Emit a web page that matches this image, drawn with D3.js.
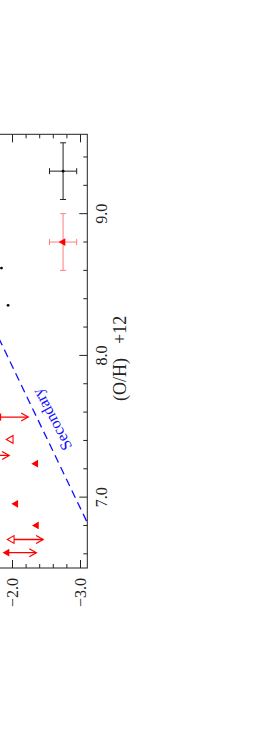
<!DOCTYPE html>
<meta charset="utf-8">
<script src="https://d3js.org/d3.v7.min.js"></script>
<style>
  body { margin: 0; background: #fff; }
  text { font-family: "Liberation Serif", serif; }
</style>
<body>
<div id="chart"></div>
<script>
  // data (x = 12+log(O/H), y = log ratio)
  const blackX = [8.616, 8.353];
  const blackY = [-1.838, -1.935];
  const triX = [7.236, 6.953, 6.800];
  const triY = [-2.343, -2.049, -2.353];
  const openTriX = [7.407];
  const openTriY = [-1.975];
  // upper limits: marker value and tip of the arrow
  const limX = [7.565, 7.294, 6.701, 6.608];
  const limY = [-1.80, -1.51, -1.99, -1.92];
  const limTip = [-2.23, -1.95, -2.45, -2.35];
  const limOpen = [false, false, true, false];
  // typical error bars
  const errX = [9.30, 8.80];
  const errY = [-2.744, -2.744];
  const errSize = [0.2, 0.2];
  const errColor = ["#222", "#ff7f7f"];
  // secondary line
  const lineX = [6.5, 9.56];
  const lineY = [-3.42, -0.36];
  const xTicks = [7.0, 8.0, 9.0];
  const yTicks = [-3.0, -2.0];

  const width = 278, height = 747;
  const svg = d3.select("#chart").append("svg")
    .attr("width", width).attr("height", height);

  // chart is drawn upright and then turned a quarter to the left
  const g = svg.append("g").attr("transform", "translate(0,568) rotate(-90)");

  const x = d3.scaleLinear().domain([6.5, 9.56]).range([0, 433.7]);
  const y = d3.scaleLinear().domain([-3.1, 0]).range([87.3, 87.3 - 3.1 * 68]);
  const x0 = x.range()[0], x1 = x.range()[1], y0 = y.range()[0], y1 = y.range()[1];

  g.append("clipPath").attr("id", "clip").append("rect")
    .attr("x", x0).attr("y", y1).attr("width", x1 - x0).attr("height", y0 - y1);

  // frame
  g.append("rect").attr("x", x0).attr("y", y1).attr("width", x1 - x0).attr("height", y0 - y1)
    .attr("fill", "none").attr("stroke", "#222").attr("stroke-width", 1);

  const ink = "#222";
  const xMinor = d3.range(6.6, 9.56, 0.2);
  const yMinor = d3.range(-3.0, 0.01, 0.2);
  const isMajor = v => Math.abs(v - Math.round(v)) < 1e-6;

  // x ticks, bottom and top
  xMinor.forEach(v => {
    const len = isMajor(v) ? 8 : 4;
    g.append("line").attr("x1", x(v)).attr("x2", x(v)).attr("y1", y0).attr("y2", y0 - len).attr("stroke", ink);
    g.append("line").attr("x1", x(v)).attr("x2", x(v)).attr("y1", y1).attr("y2", y1 + len).attr("stroke", ink);
  });
  // y ticks, left and right
  yMinor.forEach(v => {
    const len = isMajor(v) ? 8 : 4;
    g.append("line").attr("y1", y(v)).attr("y2", y(v)).attr("x1", x0).attr("x2", x0 + len).attr("stroke", ink);
    g.append("line").attr("y1", y(v)).attr("y2", y(v)).attr("x1", x1).attr("x2", x1 - len).attr("stroke", ink);
  });

  g.selectAll("text.xt").data(xTicks).enter().append("text")
    .attr("class", "xt")
    .attr("x", d => x(d)).attr("y", y0 + 14.5)
    .attr("text-anchor", "middle").attr("dominant-baseline", "central")
    .attr("font-size", 16).attr("fill", ink)
    .text(d => d.toFixed(1));

  g.selectAll("text.yt").data(yTicks).enter().append("text")
    .attr("class", "yt")
    .attr("x", x0 - 10).attr("y", d => y(d))
    .attr("text-anchor", "end").attr("dominant-baseline", "central")
    .attr("font-size", 16).attr("fill", ink)
    .text(d => "\u2212" + Math.abs(d).toFixed(1));

  const xl = g.append("text")
    .attr("x", x(8.0) - 3).attr("y", y0 + 33)
    .attr("text-anchor", "middle").attr("dominant-baseline", "central")
    .attr("font-size", 18).attr("fill", ink);
  xl.append("tspan").text("(O/H)");
  xl.append("tspan").attr("dx", 14).text("+12");

  const plot = g.append("g").attr("clip-path", "url(#clip)");

  // secondary line and its label
  plot.append("line")
    .attr("x1", x(lineX[0])).attr("y1", y(lineY[0]))
    .attr("x2", x(lineX[1])).attr("y2", y(lineY[1]))
    .attr("stroke", "#1010ff").attr("stroke-width", 1.3)
    .attr("stroke-dasharray", "8,5");
  const ang = Math.atan2(y(lineY[1]) - y(lineY[0]), x(lineX[1]) - x(lineX[0])) * 180 / Math.PI;
  g.append("text")
    .attr("transform", `translate(${x(7.548)},${y(-2.578)}) rotate(${ang - 2.5})`)
    .attr("text-anchor", "middle").attr("dominant-baseline", "central")
    .attr("font-size", 16).attr("fill", "#1010ff")
    .text("Secondary");

  const red = "#ff0000";
  const tri = d3.symbol().type(d3.symbolTriangle).size(26);

  // black dots
  plot.selectAll("circle.bd").data(blackX).enter().append("circle")
    .attr("cx", d => x(d)).attr("cy", (d, i) => y(blackY[i])).attr("r", 1.4).attr("fill", "#000");

  // filled triangles
  plot.selectAll("path.ft").data(triX).enter().append("path")
    .attr("transform", (d, i) => `translate(${x(d)},${y(triY[i])})`)
    .attr("d", tri).attr("fill", red);
  plot.selectAll("path.ot").data(openTriX).enter().append("path")
    .attr("transform", (d, i) => `translate(${x(d)},${y(openTriY[i])})`)
    .attr("d", tri).attr("fill", "#fff").attr("stroke", red).attr("stroke-width", 1.1);

  // upper limits
  limX.forEach((v, i) => {
    const px = x(v), pa = y(limY[i]), pb = y(limTip[i]);
    plot.append("line").attr("x1", px).attr("x2", px).attr("y1", pa).attr("y2", pb)
      .attr("stroke", red).attr("stroke-width", 1.3);
    plot.append("path")
      .attr("d", `M${px - 4},${pb - 7}L${px},${pb}L${px + 4},${pb - 7}`)
      .attr("fill", "none").attr("stroke", red).attr("stroke-width", 1.3);
    plot.append("path")
      .attr("transform", `translate(${px},${pa})`)
      .attr("d", tri)
      .attr("fill", limOpen[i] ? "#fff" : red)
      .attr("stroke", red).attr("stroke-width", limOpen[i] ? 1.1 : 0);
  });

  // representative error bars
  errX.forEach((v, i) => {
    const c = errColor[i], e = errSize[i];
    const px = x(v), py = y(errY[i]);
    const xa = x(v - e), xb = x(v + e), ya = y(errY[i] - e), yb = y(errY[i] + e);
    plot.append("line").attr("x1", xa).attr("x2", xb).attr("y1", py).attr("y2", py).attr("stroke", c);
    plot.append("line").attr("x1", px).attr("x2", px).attr("y1", ya).attr("y2", yb).attr("stroke", c);
    [xa, xb].forEach(q => plot.append("line").attr("x1", q).attr("x2", q).attr("y1", py - 3).attr("y2", py + 3).attr("stroke", c));
    [ya, yb].forEach(q => plot.append("line").attr("y1", q).attr("y2", q).attr("x1", px - 3).attr("x2", px + 3).attr("stroke", c));
  });
  plot.append("circle").attr("cx", x(errX[0])).attr("cy", y(errY[0])).attr("r", 1.4).attr("fill", "#000");
  plot.append("path").attr("transform", `translate(${x(errX[1])},${y(errY[1])})`).attr("d", tri).attr("fill", red);
</script>
</body>
